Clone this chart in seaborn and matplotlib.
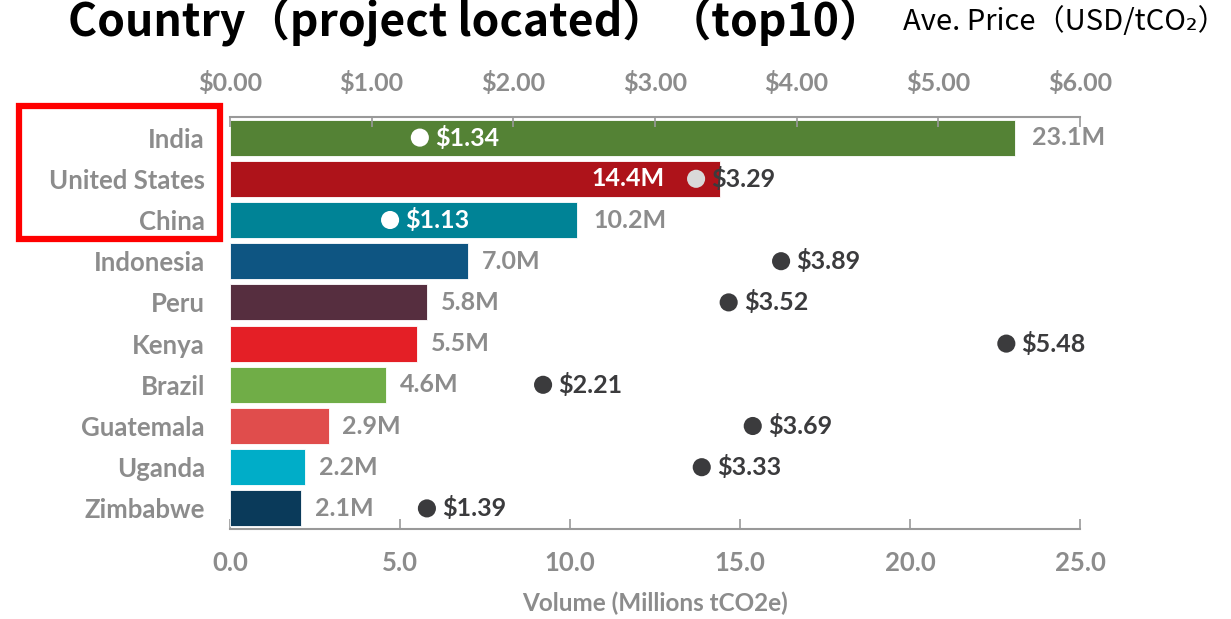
import matplotlib
matplotlib.use("Agg")
import matplotlib.pyplot as plt
import seaborn as sns
import pandas as pd
from matplotlib.patches import Rectangle

countries = ["India", "United States", "China", "Indonesia", "Peru", "Kenya",
             "Brazil", "Guatemala", "Uganda", "Zimbabwe"]
volume = [23.1, 14.4, 10.2, 7.0, 5.8, 5.5, 4.6, 2.9, 2.2, 2.1]
price = [1.34, 3.29, 1.13, 3.89, 3.52, 5.48, 2.21, 3.69, 3.33, 1.39]
bar_colors = ["#548235", "#AE131A", "#008396", "#0E5582", "#562E3F", "#E41F26",
              "#70AD47", "#E04D4C", "#00ADC8", "#0A3A5A"]
vol_ticks = [0.0, 5.0, 10.0, 15.0, 20.0, 25.0]
price_ticks = [0, 1, 2, 3, 4, 5, 6]

df = pd.DataFrame({"country": countries, "volume": volume, "price": price})

sns.set_theme(style="white")
plt.rcParams["font.family"] = ["Lato", "DejaVu Sans"]

GRAY = "#8C8C8C"
DARK = "#3B3B3D"
CJK = ["Noto Sans CJK JP", "DejaVu Sans"]

fig = plt.figure(figsize=(12.31, 6.19), dpi=100)
ax = fig.add_axes([230 / 1231, 1 - 529 / 619, 850 / 1231, 412 / 619])

sns.barplot(data=df, y="country", x="volume", hue="country", palette=bar_colors,
            order=countries, legend=False, width=0.87, ax=ax, saturation=1,
            edgecolor="white", linewidth=0.6)
ax.set_xlim(0, 25)
ax.set_ylim(9.5, -0.5)
ax.set_xticks(vol_ticks)
ax.set_xticklabels([f"{v:.1f}" for v in vol_ticks], color=GRAY, fontsize=18.5, fontweight="bold")
ax.tick_params(axis="x", direction="in", length=7, width=1.2, color="#999999", pad=16)
ax.tick_params(axis="y", length=0, pad=18)
ax.set_ylabel("")
ax.set_xlabel("Volume (Millions tCO2e)", color=GRAY, fontsize=17.5, fontweight="bold", labelpad=12)
for s in ["top", "right", "left"]:
    ax.spines[s].set_visible(False)
ax.spines["bottom"].set_color("#999999")
ax.spines["bottom"].set_linewidth(1.5)

ax2 = ax.twiny()
ax2.set_xlim(0, 6)
ax2.set_xticks(price_ticks)
ax2.set_xticklabels([f"${p:.2f}" for p in price_ticks], color=GRAY, fontsize=18, fontweight="bold")
ax2.tick_params(axis="x", direction="in", length=7, width=1.2, color="#999999", pad=16)
for s in ["bottom", "right", "left"]:
    ax2.spines[s].set_visible(False)
ax2.spines["top"].set_color("#999999")
ax2.spines["top"].set_linewidth(1.5)

scale = 25 / 6
dot_colors = []
for i, (v, p) in enumerate(zip(volume, price)):
    px = p * scale
    inside = px < v
    overflow = inside and px + 2.5 > v
    if inside and not overflow:
        dc, tc = "white", "white"
        ax.annotate(f"{v:.1f}M", (v, i), xytext=(12, 0), textcoords="offset points",
                    ha="left", va="center", color=GRAY, fontsize=18, fontweight="bold")
    elif overflow:
        dc, tc = "#D9D9D9", DARK
        ax.annotate(f"{v:.1f}M", (px, i), xytext=(-23, 0), textcoords="offset points",
                    ha="right", va="center", color="white", fontsize=18, fontweight="bold")
    else:
        dc, tc = DARK, DARK
        ax.annotate(f"{v:.1f}M", (v, i), xytext=(10, 0), textcoords="offset points",
                    ha="left", va="center", color=GRAY, fontsize=18, fontweight="bold")
    dot_colors.append(dc)
    ax2.annotate(f"${p:.2f}", (p, i), xytext=(11, 0), textcoords="offset points",
                 ha="left", va="center", color=tc, fontsize=18, fontweight="bold")

sns.scatterplot(data=df, x="price", y="country", hue="country", palette=dot_colors,
                s=170, linewidth=0, legend=False, ax=ax2, zorder=5)
ax2.set_xlim(0, 6)
ax2.set_xlabel("")
ax2.set_ylabel("")

ax.set_ylim(9.5, -0.5)
ax.set_yticks(range(len(countries)))
ax.set_yticklabels(countries, color=GRAY, fontsize=18.5, fontweight="bold")

fig.text(68 / 1231, 1 - 22 / 619, "Country（project located）（top10）",
         fontsize=32, fontweight="bold", ha="left", va="center", color="black",
         family=CJK)
fig.text(903 / 1231, 1 - 22 / 619, "Ave. Price（USD/tCO₂）",
         fontsize=21, ha="left", va="center", color="black", family=CJK)

fig.add_artist(Rectangle((19 / 1231, 1 - 239 / 619), 201 / 1231, 133 / 619,
                         transform=fig.transFigure, fill=False, ec="#FF0000", lw=4.5))

fig.savefig("out.png", dpi=100)
